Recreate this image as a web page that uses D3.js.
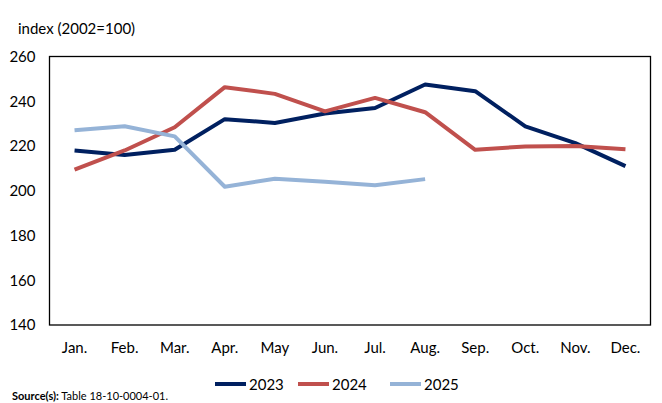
<!DOCTYPE html>
<html><head><meta charset="utf-8">
<script src="https://cdn.jsdelivr.net/npm/d3@7"></script>
<style>body{margin:0;background:#fff}svg{display:block;font-family:Lato,"Open Sans",sans-serif}</style>
</head><body><svg id="c" width="662" height="403"></svg>
<script>
const months = ["Jan.","Feb.","Mar.","Apr.","May","Jun.","Jul.","Aug.","Sep.","Oct.","Nov.","Dec."];
const s2023 = [218,216,218.3,232,230.3,234.5,237,247.5,244.5,228.8,221.3,211];
const s2024 = [209.4,218,228.4,246.3,243.3,235.5,241.5,235.1,218.3,219.8,220,218.5];
const s2025 = [227,228.8,224.3,201.8,205.4,204,202.5,205.2];
const yTicks = [140,160,180,200,220,240,260];
const seriesNames = ["2023","2024","2025"];
const colors = ["#002060","#C0504D","#95B3D7"];

const svg = d3.select("#c");
const L=49.5, R=650.5, T=56.5, B=325;
const x = d3.scaleBand().domain(months).range([L,R]);
const y = d3.scaleLinear().domain([140,260]).range([B,T]);

svg.append("rect").attr("x",L).attr("y",T).attr("width",R-L).attr("height",B-T)
  .attr("fill","none").attr("stroke","#000").attr("stroke-width",1.3);

svg.append("text").attr("x",18).attr("y",34).attr("font-size",15).text("index (2002=100)");

const ya = d3.axisLeft(y).tickValues(yTicks).tickSize(0).tickPadding(14);
const gy = svg.append("g").attr("transform",`translate(${L},0)`).call(ya);
gy.select(".domain").remove();
gy.selectAll("text").attr("font-size",15).attr("fill","#000").attr("font-family","Lato,'Open Sans',sans-serif");

const xa = d3.axisBottom(x).tickSize(0).tickPadding(17);
const gx = svg.append("g").attr("transform",`translate(0,${B})`).call(xa);
gx.select(".domain").remove();
gx.selectAll("text").attr("font-size",15).attr("fill","#000").attr("font-family","Lato,'Open Sans',sans-serif");

const line = d3.line().x((d,i)=>x(months[i])+x.bandwidth()/2).y(d=>y(d));
[s2023,s2024,s2025].forEach((s,k)=>{
  svg.append("path").datum(s).attr("d",line).attr("fill","none")
    .attr("stroke",colors[k]).attr("stroke-width",4).attr("stroke-linejoin","round");
});

const legX = [215,298,390];
seriesNames.forEach((n,k)=>{
  svg.append("line").attr("x1",legX[k]).attr("x2",legX[k]+31).attr("y1",384).attr("y2",384)
    .attr("stroke",colors[k]).attr("stroke-width",4);
  svg.append("text").attr("x",legX[k]+34).attr("y",390).attr("font-size",15).text(n);
});

const src = svg.append("text").attr("x",12).attr("y",400).attr("font-size",11);
src.append("tspan").attr("font-weight","bold").text("Source(s):");
src.append("tspan").text(" Table 18-10-0004-01.");
</script></body></html>
